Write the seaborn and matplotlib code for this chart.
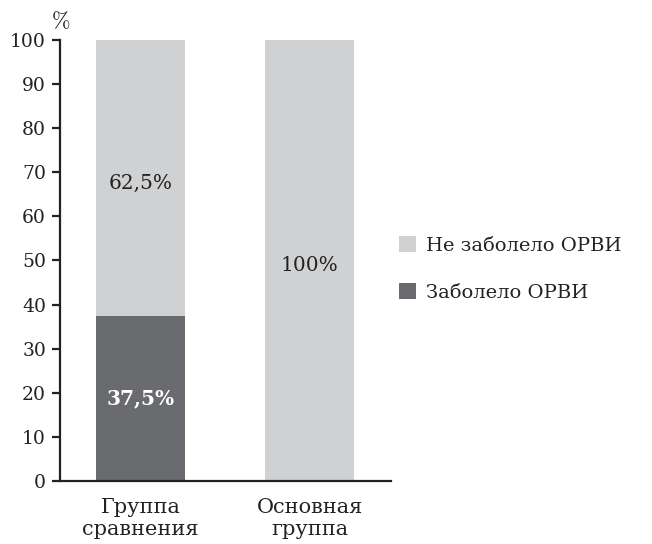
import matplotlib
matplotlib.use("Agg")
import matplotlib.pyplot as plt
from matplotlib.patches import Patch
import numpy as np
import pandas as pd
import seaborn as sns

groups = ["Группа\nсравнения", "Основная\nгруппа"]
ill = [37.5, 0.0]          # Заболело ОРВИ, %
not_ill = [62.5, 100.0]    # Не заболело ОРВИ, %
y_ticks = list(range(0, 101, 10))

light = "#d0d1d3"
dark = "#6a6b6f"
ink = "#222222"

sns.set_theme(style="white")
plt.rcParams["font.family"] = ["DejaVu Serif"]
plt.rcParams["mathtext.fontset"] = "cm"

df = pd.DataFrame({"group": groups, "ill": ill, "not_ill": not_ill})
df["total"] = df["ill"] + df["not_ill"]

fig = plt.figure(figsize=(6.52, 5.44), dpi=100)
ax = fig.add_axes([0.092, 0.1158, 0.5077, 0.8107])

sns.barplot(data=df, x="group", y="total", color=light, width=0.527,
            saturation=1, linewidth=0, ax=ax)
sns.barplot(data=df, x="group", y="ill", color=dark, width=0.527,
            saturation=1, linewidth=0, ax=ax)

ax.set_xlim(-0.476, 1.482)
ax.set_ylim(0, 100)
ax.set_yticks(y_ticks)
ax.set_yticklabels([str(t) for t in y_ticks], fontsize=13.5, color=ink)
ax.set_xticks(range(len(groups)))
ax.set_xticklabels(groups, fontsize=15, color=ink, linespacing=1.25)
ax.set_xlabel("")
ax.set_ylabel("")

for side in ("top", "right"):
    ax.spines[side].set_visible(False)
for side in ("left", "bottom"):
    ax.spines[side].set_color(ink)
    ax.spines[side].set_linewidth(1.6)
ax.tick_params(axis="y", which="both", left=True, length=6, width=1.6,
               color=ink, pad=4)
ax.tick_params(axis="x", bottom=False, pad=6)

# percentage labels inside the segments
for i, (a, b) in enumerate(zip(ill, not_ill)):
    if a > 0:
        ax.text(i, a / 2, f"{a:g}%".replace(".", ","), ha="center",
                va="center", fontsize=14.5, color="white", fontweight="bold")
    if b > 0:
        ax.text(i, a + b / 2 - 1.2, f"{b:g}%".replace(".", ","), ha="center",
                va="center", fontsize=14.5, color=ink)

ax.text(-0.47, 101.5, r"$\%$", ha="center", va="bottom", fontsize=16,
        color=ink)

handles = [Patch(facecolor=light, edgecolor="none"),
           Patch(facecolor=dark, edgecolor="none")]
fig.legend(handles, ["Не заболело ОРВИ", "Заболело ОРВИ"],
           loc="center left", bbox_to_anchor=(0.585, 0.506), frameon=False,
           fontsize=14, handlelength=0.9, handleheight=0.9,
           handletextpad=0.5, labelspacing=1.45, labelcolor=ink)

fig.savefig("out.png", dpi=100)
